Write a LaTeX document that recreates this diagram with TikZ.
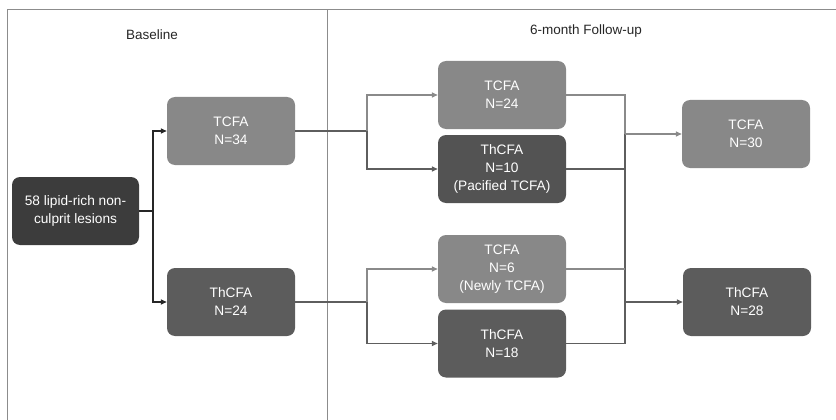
\documentclass[tikz,border=0pt]{standalone}
\usepackage{fontspec}
\setmainfont{Liberation Sans}
\usetikzlibrary{arrows.meta,calc}
\definecolor{lightbox}{HTML}{888888}
\definecolor{midbox}{HTML}{5C5C5C}
\definecolor{darkbox}{HTML}{3C3C3C}
\definecolor{frame}{HTML}{8C8C8C}
\definecolor{lightline}{HTML}{8A8A8A}
\definecolor{midline}{HTML}{5E5E5E}
\begin{document}
\begin{tikzpicture}[x=1pt,y=-1pt,
  box/.style={rounded corners=8pt, minimum width=128pt, minimum height=68pt, inner sep=2pt,
    text=white, align=center, font=\fontsize{13.7}{18}\selectfont},
  lbox/.style={box, fill=lightbox},
  mbox/.style={box, fill=midbox},
  dbox/.style={box, fill=darkbox},
  title/.style={font=\fontsize{13.5}{16}\selectfont, text=black!85},
  tip/.style={-{Triangle[length=6pt,width=5pt]}},
  blk/.style={draw=black!85, line width=1.8pt},
  lgl/.style={draw=lightline, line width=1.7pt},
  mgl/.style={draw=midline, line width=1.7pt},
  framel/.style={draw=frame, line width=1pt}]
\useasboundingbox (0,0) rectangle (836,420);
% frame
\draw[framel] (7,420) -- (7,10) -- (836,10);
\draw[framel] (327,10) -- (327,420);
\node[title] (tb) at (152,35) {Baseline};
\node[title] (tf) at (586,31) {6-month Follow-up};
% nodes
\node[dbox, minimum width=127pt] (src) at (75.5,211) {58 lipid-rich non-\\culprit lesions};
\node[lbox] (A) at (231,131) {TCFA\\N=34};
\node[mbox] (B) at (231,302) {ThCFA\\N=24};
\node[lbox] (C) at (502,95) {TCFA\\N=24};
\node[mbox, fill=midbox!90!black] (D) at (502,169) {ThCFA\\N=10\\(Pacified TCFA)};
\node[lbox] (E) at (502,269) {TCFA\\N=6\\(Newly TCFA)};
\node[mbox] (F) at (502,343.5) {ThCFA\\N=18};
\node[lbox] (G) at (746,134) {TCFA\\N=30};
\node[mbox] (H) at (747,302) {ThCFA\\N=28};
% baseline split
\coordinate (s1) at ($(src.east)+(14,0)$);
\draw[blk] (src.east) -- (s1);
\draw[blk, tip] (s1) |- (A.west);
\draw[blk, tip] (s1) |- (B.west);
% follow-up split from A
\coordinate (j1) at ($(A.east)+(72,0)$);
\draw[mgl] (A.east) -- (j1);
\draw[lgl, tip] (j1) |- (C.west);
\draw[mgl, tip] (j1) |- (D.west);
% follow-up split from B
\coordinate (j2) at ($(B.east)+(72,0)$);
\draw[mgl] (B.east) -- (j2);
\draw[lgl, tip] (j2) |- (E.west);
\draw[mgl, tip] (j2) |- (F.west);
% bus
\coordinate (bx) at (625,0);
\draw[lgl] (C.east) -| (bx |- G.west);
\draw[mgl] (bx |- G.west) -- (bx |- F.east);
\draw[mgl] (D.east) -- (D.east -| bx);
\draw[lgl] (E.east) -- (E.east -| bx);
\draw[mgl] (F.east) -- (F.east -| bx);
\draw[lgl, tip] (bx |- G.west) -- (G.west);
\draw[mgl, tip] (bx |- H.west) -- (H.west);
\end{tikzpicture}
\end{document}
